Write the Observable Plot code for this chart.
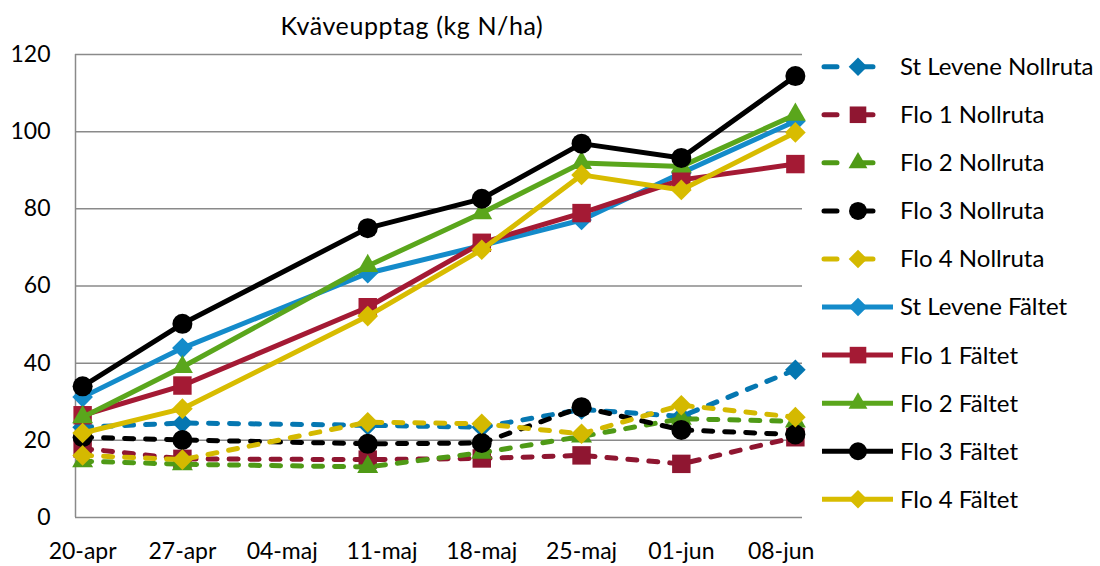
<!DOCTYPE html>
<html><head><meta charset="utf-8">
<script src="https://cdn.jsdelivr.net/npm/d3@7"></script>
<script src="https://cdn.jsdelivr.net/npm/@observablehq/plot@0.6"></script>
<style>
body{margin:0;background:#fff;font-family:Lato,sans-serif;}
#wrap{position:relative;width:1100px;height:566px;overflow:hidden;background:#fff}
#wrap svg{position:absolute;left:0;top:0}
</style></head><body><div id="wrap"></div>
<script>
// ---- data ----
const dates = ["2013-04-20","2013-04-27","2013-05-10","2013-05-18","2013-05-25","2013-06-01","2013-06-09"];
const tickDates = ["2013-04-20","2013-04-27","2013-05-04","2013-05-11","2013-05-18","2013-05-25","2013-06-01","2013-06-08"];
const tickLabels = ["20-apr","27-apr","04-maj","11-maj","18-maj","25-maj","01-jun","08-jun"];
const yTicks = [0,20,40,60,80,100,120];
const title = "Kväveupptag (kg N/ha)";
const seriesNames = ["St Levene Nollruta","Flo 1 Nollruta","Flo 2 Nollruta","Flo 3 Nollruta","Flo 4 Nollruta",
  "St Levene Fältet","Flo 1 Fältet","Flo 2 Fältet","Flo 3 Fältet","Flo 4 Fältet"];
const stLeveneNollruta = [23.4, 24.5, 23.9, 23.4, 28.0, 26.2, 38.3];
const flo1Nollruta     = [17.9, 15.2, 15.0, 15.3, 16.1, 13.9, 20.8];
const flo2Nollruta     = [14.6, 13.8, 13.1, 16.8, 21.0, 25.6, 24.9];
const flo3Nollruta     = [20.8, 20.1, 19.1, 19.3, 28.6, 22.7, 21.5];
const flo4Nollruta     = [16.1, 15.0, 24.7, 24.3, 21.7, 29.1, 26.0];
const stLeveneFaltet   = [31.2, 43.9, 63.3, 70.5, 77.1, 89.3, 102.7];
const flo1Faltet       = [26.5, 34.2, 54.5, 71.2, 78.9, 87.5, 91.6];
const flo2Faltet       = [26.0, 39.0, 65.2, 78.9, 91.9, 91.0, 104.4];
const flo3Faltet       = [34.0, 50.2, 75.0, 82.6, 96.9, 93.2, 114.4];
const flo4Faltet       = [21.9, 28.2, 52.2, 69.4, 88.8, 84.9, 99.8];
const seriesValues = [stLeveneNollruta, flo1Nollruta, flo2Nollruta, flo3Nollruta, flo4Nollruta,
  stLeveneFaltet, flo1Faltet, flo2Faltet, flo3Faltet, flo4Faltet];

// ---- styles ----
const colors = ["#0577b1","#8f1631","#4f9a16","#000000","#d4b900",
                "#148bca","#a41a34","#5aa61c","#000000","#d8bc00"];
const symbols = ["diamond2","square","triangle2","circle","diamond2",
                 "diamond2","square","triangle2","circle","diamond2"];
const radii = {diamond2:9.3, square:10.4, triangle2:10, circle:10};
const dashed = [true,true,true,true,true,false,false,false,false,false];

const parse = s => new Date(s + "T00:00:00Z");
const HALF = 12*3600*1000;
const x0 = new Date(parse(dates[0]).getTime() - HALF);
const x1 = new Date(parse(dates[dates.length-1]).getTime() + HALF);
const grid = "#8a8a8a";
const font = "Lato, sans-serif";

const rows = [];
seriesNames.forEach((name, i) => seriesValues[i].forEach((v, j) => rows.push({series: name, idx: i, date: parse(dates[j]), value: v})));

const tickDateObjs = tickDates.map(parse);
const marks = [
  Plot.gridY(yTicks, {stroke: grid, strokeOpacity: 1, strokeWidth: 1.5}),
  Plot.ruleX([x0], {stroke: grid, strokeWidth: 1.5, y1: 0, y2: 120}),
  Plot.axisY(yTicks, {tickSize: 0, tickPadding: 25, fontSize: 23, label: null, fill: "#000"}),
  Plot.axisX(tickDateObjs, {tickSize: 0, tickPadding: 25, fontSize: 23, label: null, fill: "#000",
     tickFormat: d => tickLabels[tickDateObjs.findIndex(t => +t === +d)]})
];
seriesNames.forEach((name, i) => {
  const data = rows.filter(r => r.idx === i);
  marks.push(Plot.line(data, {x: "date", y: "value", stroke: colors[i], strokeWidth: 5,
    strokeDasharray: dashed[i] ? "9,12" : null, strokeLinecap: dashed[i] ? "round" : "butt", strokeLinejoin: "round"}));
  marks.push(Plot.dot(data, {x: "date", y: "value", fill: colors[i], stroke: "none", symbol: symbols[i], r: radii[symbols[i]]}));
});

const chart = Plot.plot({
  width: 1100, height: 566,
  marginLeft: 75, marginRight: 298, marginTop: 54, marginBottom: 49,
  x: {type: "utc", domain: [x0, x1]},
  y: {domain: [0, 120]},
  style: {fontFamily: font, background: "transparent", color: "#000"},
  marks
});
document.getElementById("wrap").appendChild(chart);

// ---- title + legend overlay ----
const svg = d3.select("#wrap").append("svg").attr("width", 1100).attr("height", 566).style("pointer-events", "none");
svg.append("text").attr("x", 412).attr("y", 35).attr("text-anchor", "middle")
  .style("font-family", font).style("font-size", "25px").style("letter-spacing", "0.6px").attr("fill", "#000").text(title);

const symMap = {diamond2: d3.symbolDiamond2, square: d3.symbolSquare, triangle2: d3.symbolTriangle2, circle: d3.symbolCircle};
seriesNames.forEach((name, i) => {
  const y = 66.7 + i * 48.07;
  const g = svg.append("g");
  g.append("line").attr("x1", dashed[i] ? 824 : 822).attr("x2", dashed[i] ? 882 : 893).attr("y1", y).attr("y2", y)
    .attr("stroke", colors[i]).attr("stroke-width", 5)
    .attr("stroke-dasharray", dashed[i] ? "13,23" : null).attr("stroke-linecap", dashed[i] ? "round" : "butt");
  const r = radii[symbols[i]] * 0.9;
  g.append("path").attr("transform", `translate(858,${y})`)
    .attr("d", d3.symbol(symMap[symbols[i]], Math.PI * r * r)()).attr("fill", colors[i]);
  g.append("text").attr("x", 900).attr("y", y).attr("dy", "0.35em")
    .style("font-family", font).style("font-size", "24px").attr("fill", "#000").text(name);
});
</script></body></html>
